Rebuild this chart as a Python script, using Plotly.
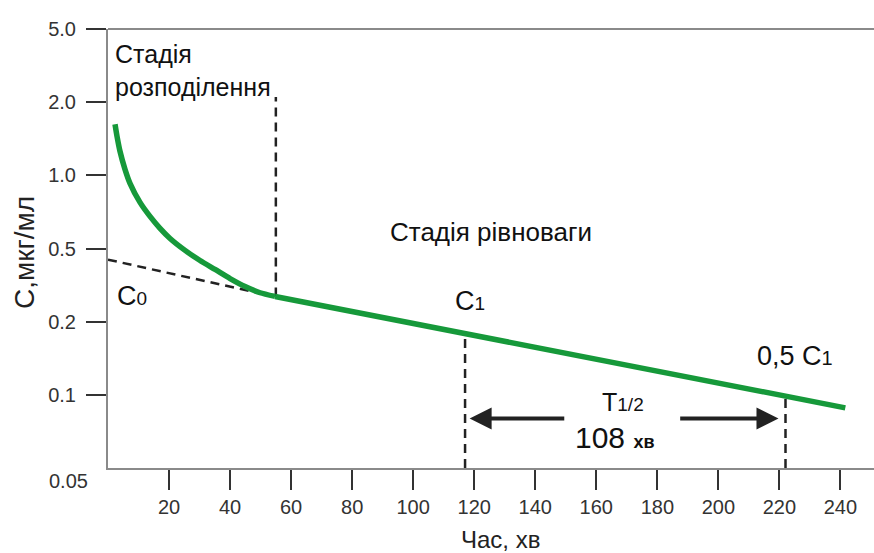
import math
import plotly.graph_objects as go

# ---- data (time in min, concentration in µg/ml on the chart's log scale) ----
t_dist = [2.30, 2.95, 3.93, 5.57, 7.21, 10.49, 13.77, 17.05, 20.33, 25.25, 30.16, 35.08, 40.0, 44.92, 49.84, 54.75]
c_dist = [1.298, 1.159, 1.005, 0.847, 0.742, 0.619, 0.542, 0.484, 0.440, 0.393, 0.357, 0.328, 0.301, 0.279, 0.263, 0.254]

t_elim = [54.75, 117.0, 222.0, 241.6]
c_elim = [0.254, 0.1787, 0.0988, 0.0884]

t_extrap = [0.0, 52.0]
c_extrap = [0.36, 0.258]

t_boundary = 55.0
c_boundary_top = 1.68
t_c1 = 117.0
t_half = 222.0
c_axis_min = 0.05
c_arrow = 0.08
arrow_left = [150.0, 118.5]
arrow_right = [187.0, 219.7]

y_tickvals = [0.1, 0.2, 0.4, 0.8, 1.6, 3.2]
y_ticktext = ["0.1", "0.2", "0.5", "1.0", "2.0", "5.0"]
x_tickvals = [20, 40, 60, 80, 100, 120, 140, 160, 180, 200, 220, 240]

GREEN = "#16993a"
DARK = "#222222"
FONT = "Liberation Sans, Arial, sans-serif"
DASH = "9px,6px"

W, H = 874, 553
L, R, T, B = 108, 0, 29, 85


def px(xp):
    return (xp - L) / (W - L - R)


def py(yp):
    return (H - B - yp) / (H - B - T)


fig = go.Figure()

for xs, ys in [(t_extrap, c_extrap),
               ([t_boundary, t_boundary], [c_elim[0], c_boundary_top]),
               ([t_c1, t_c1], [c_axis_min, c_elim[1]]),
               ([t_half, t_half], [c_axis_min, c_elim[2]])]:
    fig.add_trace(go.Scatter(x=xs, y=ys, mode="lines",
                             line=dict(color=DARK, width=2.5, dash=DASH),
                             hoverinfo="skip", showlegend=False))

fig.add_trace(go.Scatter(x=t_dist, y=c_dist, mode="lines",
                         line=dict(color=GREEN, width=5.5, shape="spline", smoothing=0.6),
                         showlegend=False))
fig.add_trace(go.Scatter(x=t_elim, y=c_elim, mode="lines",
                         line=dict(color=GREEN, width=5.5),
                         showlegend=False))

ly = math.log10(c_arrow)
annotations = [
    dict(x=arrow_left[1], y=ly, ax=arrow_left[0], ay=ly, xref="x", yref="y",
         axref="x", ayref="y", showarrow=True, arrowhead=2, arrowsize=1.1,
         arrowwidth=4, arrowcolor=DARK, text=""),
    dict(x=arrow_right[1], y=ly, ax=arrow_right[0], ay=ly, xref="x", yref="y",
         axref="x", ayref="y", showarrow=True, arrowhead=2, arrowsize=1.1,
         arrowwidth=4, arrowcolor=DARK, text=""),
]


def txt(text, xp, yp, size, xanchor="left", yanchor="middle", color="#111111", angle=0):
    annotations.append(dict(text=text, x=px(xp), y=py(yp), xref="paper", yref="paper",
                            xanchor=xanchor, yanchor=yanchor, showarrow=False,
                            textangle=angle, align="left",
                            font=dict(family=FONT, size=size, color=color)))


def small(s, size):
    return "<span style='font-size:%dpx'>%s</span>" % (size, s)


txt("Стадія<br>розподілення", 113, 70, 25)
txt("Стадія рівноваги", 491, 232, 26, xanchor="center")
txt("C" + small("0", 19), 115, 296, 27)
txt("C" + small("1", 19), 453, 301, 27)
txt("0,5 C" + small("1", 20), 755, 356, 27)
txt("T" + small("1/2", 19), 600, 402, 25)
txt("108 " + small("<b>хв</b>", 18), 573, 437, 30)
txt("0.05", 90, 481, 20, xanchor="right", color="#333333")
txt("C,мкг/мл", 25, 253, 28, xanchor="center", angle=-90, color="#222222")
txt("Час, хв", 500, 539, 24, xanchor="center", color="#222222")

fig.update_layout(
    width=W, height=H,
    margin=dict(l=L, r=R, t=T, b=B),
    paper_bgcolor="white", plot_bgcolor="white",
    font=dict(family=FONT, size=20, color="#333333"),
    annotations=annotations,
    shapes=[dict(type="line", xref="paper", yref="paper", x0=0, x1=1, y0=1, y1=1,
                 line=dict(color="#8a8a8a", width=2), layer="below")],
    xaxis=dict(range=[0, 251], showgrid=False, zeroline=False,
               showline=True, linecolor="#8a8a8a", linewidth=2,
               tickmode="array", tickvals=x_tickvals,
               ticks="outside", ticklen=20, tickwidth=2, tickcolor="#333333",
               tickfont=dict(size=20, color="#333333")),
    yaxis=dict(type="log", range=[math.log10(0.05), math.log10(3.2)],
               showgrid=False, zeroline=False,
               showline=True, linecolor="#8a8a8a", linewidth=2,
               tickmode="array", tickvals=y_tickvals, ticktext=y_ticktext,
               ticks="outside", ticklen=20, tickwidth=2, tickcolor="#333333",
               ticklabelstandoff=6,
               tickfont=dict(size=20, color="#333333")),
)

fig.write_html("out.html", config={"displayModeBar": False},
               post_script="document.body.style.margin='0px';")
